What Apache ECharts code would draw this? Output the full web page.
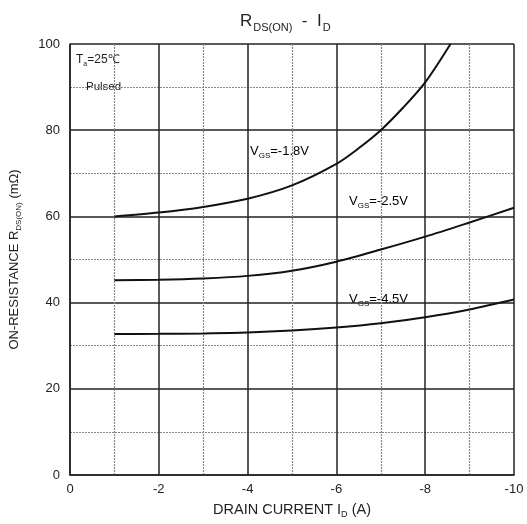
<!DOCTYPE html>
<html>
<head>
<meta charset="utf-8">
<script src="https://cdn.jsdelivr.net/npm/echarts@6/dist/echarts.min.js"></script>
<style>
html, body { margin: 0; padding: 0; background: #fff; }
#main { width: 527px; height: 524px; }
</style>
</head>
<body>
<div id="main"></div>
<script>
// drain current (A) and on-resistance (mOhm)
var idVgs18 = [-1, -2, -3, -4, -5, -6, -6.5, -7, -7.5, -8, -8.57];
var rVgs18 = [60, 60.9, 62.2, 64.1, 67.2, 72.2, 75.8, 80, 85.2, 91.1, 100];
var idAll = [-1, -2, -3, -4, -5, -6, -7, -8, -9, -10];
var rVgs25 = [45.2, 45.3, 45.6, 46.2, 47.4, 49.5, 52.3, 55.3, 58.6, 62];
var rVgs45 = [32.7, 32.75, 32.85, 33.05, 33.5, 34.2, 35.2, 36.6, 38.4, 40.7];
var xTicks = [0, -2, -4, -6, -8, -10];
var yTicks = [0, 20, 40, 60, 80, 100];

function pairs(xs, ys) {
    var out = [];
    for (var i = 0; i < xs.length; i++) out.push([xs[i], ys[i]]);
    return out;
}

var font = 'Liberation Sans, Arial, sans-serif';
var sub = { fontSize: 8, fontFamily: font, color: '#222', padding: [9, 0, 0, 0] };
var big = { fontSize: 13, fontFamily: font, color: '#222' };
var xsub = { fontSize: 9, fontFamily: font, color: '#222', padding: [10, 0, 0, 0] };
var xbig = { fontSize: 14.5, fontFamily: font, color: '#222' };

var dom = document.getElementById("main");
var myChart = echarts.init(dom);

var option = {
    animation: false,
    textStyle: { fontFamily: font },
    title: {
        text: '{a|R}{s|DS(ON)}{a|  -  I}{s|D}',
        left: 235,
        top: 5,
        textStyle: {
            fontWeight: 'normal',
            rich: {
                a: { fontSize: 17, fontFamily: font, color: '#222', fontWeight: 'normal' },
                s: { fontSize: 11, fontFamily: font, color: '#222', fontWeight: 'normal', padding: [12, 0, 0, 1] }
            }
        }
    },
    grid: { left: 70, right: 13, top: 44, bottom: 49 },
    xAxis: {
        type: 'value',
        min: -10,
        max: 0,
        interval: 2,
        inverse: true,
        name: '{a|DRAIN CURRENT I}{s|D}{a| (A)}',
        nameLocation: 'middle',
        nameGap: 25,
        nameTextStyle: { rich: { a: xbig, s: xsub } },
        axisLine: { show: true, lineStyle: { color: '#222', width: 1.5 } },
        axisTick: { show: false },
        axisLabel: {
            color: '#222', fontSize: 13, margin: 8,
            formatter: function (v) { return xTicks.indexOf(v) >= 0 ? String(v) : ''; }
        },
        splitLine: { show: true, lineStyle: { color: '#222', width: 1.5 } },
        minorTick: { show: false, splitNumber: 2 },
        minorSplitLine: { show: true, lineStyle: { color: '#888', width: 1.2, type: [2, 1] } }
    },
    yAxis: {
        type: 'value',
        min: 0,
        max: 100,
        interval: 20,
        name: '{a|ON-RESISTANCE R}{s|DS(ON)}{a| (mΩ)}',
        nameLocation: 'middle',
        nameGap: 47,
        nameTextStyle: { rich: { a: big, s: sub } },
        axisLine: { show: true, lineStyle: { color: '#222', width: 1.5 } },
        axisTick: { show: false },
        axisLabel: {
            color: '#222', fontSize: 13, margin: 10,
            formatter: function (v) { return yTicks.indexOf(v) >= 0 ? String(v) : ''; }
        },
        splitLine: { show: true, lineStyle: { color: '#222', width: 1.5 } },
        minorTick: { show: false, splitNumber: 2 },
        minorSplitLine: { show: true, lineStyle: { color: '#888', width: 1.2, type: [2, 1] } }
    },
    graphic: [
        {
            type: 'text', left: 76, top: 54,
            style: { text: '{a|T}{s|a}{a|=25℃}', rich: { a: { fontSize: 12, fontFamily: font, fill: '#222' }, s: { fontSize: 7, fontFamily: font, fill: '#222', padding: [8, 0, 0, 0] } } }
        },
        {
            type: 'text', left: 85, top: 80,
            style: { text: 'Pulsed', fontSize: 11.5, fontFamily: font, fill: '#222', backgroundColor: '#fff', padding: [1, 1] }
        },
        {
            type: 'text', left: 250, top: 145,
            style: { text: '{a|V}{s|GS}{a|=-1.8V}', rich: { a: big, s: sub } }
        },
        {
            type: 'text', left: 349, top: 195,
            style: { text: '{a|V}{s|GS}{a|=-2.5V}', rich: { a: big, s: sub } }
        },
        {
            type: 'text', left: 349, top: 293,
            style: { text: '{a|V}{s|GS}{a|=-4.5V}', rich: { a: big, s: sub } }
        }
    ],
    series: [
        {
            name: 'VGS=-1.8V', type: 'line', smooth: 0.3, symbol: 'none',
            lineStyle: { color: '#111', width: 2 },
            data: pairs(idVgs18, rVgs18)
        },
        {
            name: 'VGS=-2.5V', type: 'line', smooth: 0.3, symbol: 'none',
            lineStyle: { color: '#111', width: 2 },
            data: pairs(idAll, rVgs25)
        },
        {
            name: 'VGS=-4.5V', type: 'line', smooth: 0.3, symbol: 'none',
            lineStyle: { color: '#111', width: 2 },
            data: pairs(idAll, rVgs45)
        }
    ]
};
if (option && typeof option === "object") {
    myChart.setOption(option, true);
}
</script>
</body>
</html>
